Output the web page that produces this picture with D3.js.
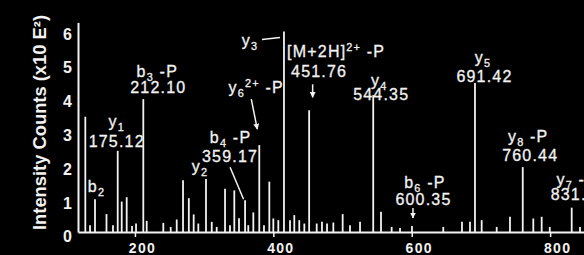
<!DOCTYPE html>
<html>
<head>
<meta charset="utf-8">
<script src="https://cdn.jsdelivr.net/npm/d3@7"></script>
<style>
  body { margin: 0; background: #000; }
  svg { display: block; }
</style>
</head>
<body>
<svg id="spectrum" width="584" height="255"></svg>
<script>
// Peak list: m/z and intensity (x10 E2)
const peakMz = [128.3, 135.1, 142.3, 158.9, 168.3, 175.12, 180.9, 188.1, 195.8, 201.6,
  212.10, 217.0, 241.0, 251.7, 260.4, 269.5, 277.9, 284.9, 291.6, 302.7,
  311.0, 318.2, 330.2, 337.4, 343.6, 350.4, 359.17, 363.8, 371.1, 379.7,
  386.5, 394.2, 400.0, 407.2, 415.4, 424.1, 430.3, 437.5, 444.8, 451.76,
  462.7, 470.3, 477.6, 486.7, 500.2, 510.8, 525.3, 544.35, 555.6, 571.0,
  583.1, 600.35, 645.6, 672.6, 684.2, 691.42, 701.1, 722.8, 742.0, 760.44,
  775.7, 787.8, 799.5, 831.2, 843.2];
const peakInt = [3.41, 0.2, 0.97, 0.53, 0.2, 2.4, 0.9, 1.03, 0.18, 0.25,
  3.93, 0.33, 0.27, 0.15, 0.37, 1.53, 1.0, 0.52, 0.25, 1.57,
  0.3, 0.15, 1.28, 0.2, 1.23, 0.41, 0.94, 0.2, 0.58, 2.57,
  0.2, 1.49, 0.4, 0.35, 5.93, 0.35, 0.5, 0.35, 0.25, 3.6,
  0.25, 0.3, 0.25, 0.28, 0.53, 0.2, 0.3, 4.05, 0.6, 0.15,
  0.12, 0.18, 0.15, 0.3, 0.3, 4.41, 0.35, 0.15, 0.45, 1.92,
  0.4, 0.45, 0.15, 0.72, 0.15];

// Annotated fragment ions ( _x = subscript, ^x = superscript )
const ionMz = [142.3, 175.12, 212.10, 302.7, 359.17, 379.7, 415.4, 451.76, 544.35, 600.35, 691.42, 760.44, 831.2];
const ionNames = ["b_2", "y_1", "b_3 -P", "y_2", "b_4 -P", "y_6^2+ -P", "y_3", "[M+2H]^2+ -P", "y_4", "b_6 -P", "y_5", "y_8 -P", "y_7 -P"];
const ionValues = ["", "175.12", "212.10", "", "359.17", "", "", "451.76", "544.35", "600.35", "691.42", "760.44", "831.47"];

const xTicks = [200, 400, 600, 800];
const yTicks = [0, 1, 2, 3, 4, 5, 6];

const svg = d3.select('#spectrum');
const width = +svg.attr('width');

const x = d3.scaleLinear().domain([117.73, 848.96]).range([78, width]);
const y = d3.scaleLinear().domain([0, 6.2]).range([232, 22.4]);

svg.append('rect').attr('width', width).attr('height', 255).attr('fill', '#000');

const defs = svg.append('defs');
defs.append('marker')
  .attr('id', 'head')
  .attr('viewBox', '0 0 10 10')
  .attr('refX', 9).attr('refY', 5)
  .attr('markerWidth', 6).attr('markerHeight', 6)
  .attr('markerUnits', 'userSpaceOnUse')
  .attr('orient', 'auto')
  .append('path').attr('d', 'M0,0 L10,5 L0,10 Z').attr('fill', '#f2f2f2');

// peaks
svg.selectAll('line.peak')
  .data(peakMz)
  .enter()
  .append('line')
  .attr('class', 'peak')
  .attr('x1', d => x(d)).attr('x2', d => x(d))
  .attr('y1', y(0))
  .attr('y2', (d, i) => y(peakInt[i]))
  .attr('stroke', '#f2f2f2')
  .attr('stroke-width', 1.8);

// axes
const xAxis = svg.append('g')
  .attr('transform', `translate(0,${y(0)})`)
  .call(d3.axisBottom(x).tickValues(xTicks).tickSize(5).tickSizeOuter(0).tickPadding(6));
xAxis.selectAll('text')
  .attr('dx', 7)
  .attr('font-size', 14).attr('font-weight', 'bold')
  .attr('letter-spacing', 1.3);

const yAxis = svg.append('g')
  .attr('transform', `translate(${x.range()[0]},0)`)
  .call(d3.axisLeft(y).tickValues(yTicks).tickSize(0).tickSizeOuter(0).tickPadding(6).tickFormat(d3.format('d')));
yAxis.selectAll('text')
  .attr('dy', '0.62em')
  .attr('font-size', 16).attr('font-weight', 'bold');

svg.selectAll('.domain').attr('stroke', '#f2f2f2').attr('stroke-width', 2);
svg.selectAll('.tick line').attr('stroke', '#f2f2f2').attr('stroke-width', 1.5);
svg.selectAll('.tick text').attr('fill', '#f2f2f2').attr('font-family', 'Liberation Sans, Arial, sans-serif');

svg.append('text')
  .attr('transform', 'translate(46,122.5) rotate(-90)')
  .attr('text-anchor', 'middle')
  .attr('font-family', 'Liberation Sans, Arial, sans-serif')
  .attr('font-size', 18).attr('font-weight', 'bold')
  .attr('fill', '#f2f2f2')
  .attr('textLength', 215).attr('lengthAdjust', 'spacingAndGlyphs')
  .text('Intensity Counts (x10 E²)');

// label placement relative to each peak top: name, value, pointer [x1,y1,x2,y2], arrowhead
const layout = [
  { n: [1.5, -7] },
  { n: [-1, -24], v: [-1, -4] },
  { n: [14, -22], v: [15, -6] },
  { n: [-6, -7] },
  { n: [-14.5, -57], v: [-15, -38], p: [-15, -33, -1.5, -1] },
  { n: [-3, -52], p: [-8, -46, -2, -16], a: true },
  { n: [-34, 14], p: [-22, 8, -4, 6] },
  { n: [27, -53], v: [10, -33], p: [3.5, -26, 3.5, -13], a: true },
  { n: [6, -9], v: [8, 5] },
  { n: [13, -38], v: [11.5, -21], p: [1, -18, 1, -8], a: true },
  { n: [8, -20], v: [9.5, -1] },
  { n: [5.5, -25], v: [7.5, -6] },
  { n: [5, -23], v: [7, -8] }
];

function richText(sel, str) {
  const parts = str.split(/(_\w|\^[0-9+]+)/).filter(p => p);
  let shift = 0;
  parts.forEach(p => {
    let target = 0, txt = p, small = false;
    if (p[0] === '_') { target = 4; txt = p.slice(1); small = true; }
    else if (p[0] === '^') { target = -6; txt = p.slice(1); small = true; }
    sel.append('tspan')
      .attr('dy', target - shift)
      .attr('font-size', small ? '0.68em' : null)
      .text(txt);
    shift = target;
  });
}

const labels = svg.append('g')
  .attr('font-family', 'Liberation Sans, Arial, sans-serif')
  .attr('font-size', 16)
  .attr('letter-spacing', 1.2)
  .attr('fill', '#f2f2f2')
  .attr('stroke', '#f2f2f2').attr('stroke-width', 0.3)
  .attr('text-anchor', 'middle');

ionMz.forEach((m, i) => {
  const px = x(m);
  const py = y(peakInt[peakMz.indexOf(m)]);
  const L = layout[i];
  const name = labels.append('text').attr('x', px + L.n[0]).attr('y', py + L.n[1]);
  richText(name, ionNames[i]);
  if (L.v && ionValues[i]) {
    labels.append('text').attr('x', px + L.v[0]).attr('y', py + L.v[1]).text(ionValues[i]);
  }
  if (L.p) {
    svg.append('line')
      .attr('x1', px + L.p[0]).attr('y1', py + L.p[1])
      .attr('x2', px + L.p[2]).attr('y2', py + L.p[3])
      .attr('stroke', '#f2f2f2').attr('stroke-width', 1.5)
      .attr('marker-end', L.a ? 'url(#head)' : null);
  }
});
</script>
</body>
</html>
